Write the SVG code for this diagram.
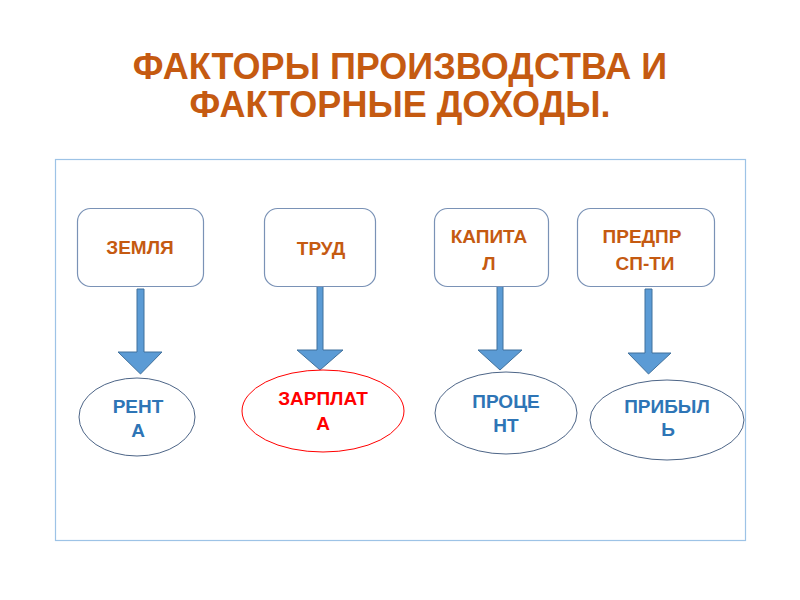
<svg xmlns="http://www.w3.org/2000/svg" width="800" height="600" viewBox="0 0 800 600">
<style>
.title{font-family:"Liberation Sans",Arial,sans-serif;font-weight:bold;font-size:36px;fill:#c55a11;text-anchor:middle}
.box{fill:#fff;stroke:#7a92b6;stroke-width:1.2}
.t{font-family:"Liberation Sans",Arial,sans-serif;font-weight:bold;font-size:19px;text-anchor:middle}
.or{fill:#c55a11}
.bl{fill:#2e75b6}
.rd{fill:#ff0000}
.ell{fill:#fff;stroke:#4d6587;stroke-width:1}
.ellr{fill:#fff;stroke:#ff0000;stroke-width:1}
.arr{fill:#5b9bd5;stroke:#41719c;stroke-width:1}
</style>
<rect width="800" height="600" fill="#fff"/>
<text class="title" x="400" y="79">ФАКТОРЫ ПРОИЗВОДСТВА И</text>
<text class="title" x="400" y="117">ФАКТОРНЫЕ ДОХОДЫ.</text>
<g id="connectors">
<path class="arr" d="M137,289 H144 V352 H162 L140.5,374 L118,352 H137 Z"/>
<path class="arr" d="M317,285 H323 V350 H343 L320,370 L297,350 H317 Z"/>
<path class="arr" d="M497,285 H503 V350 H522 L500,370 L478,350 H497 Z"/>
<path class="arr" d="M645,289 H652 V353 H671 L648.5,374 L628,353 H645 Z"/>
</g>
<g id="zemlya"><rect class="box" x="77.5" y="208.5" width="126" height="78" rx="13"/><text class="t or" x="140" y="254">ЗЕМЛЯ</text></g>
<g id="trud"><rect class="box" x="264.5" y="208.5" width="111" height="78" rx="13"/><text class="t or" x="321" y="255">ТРУД</text></g>
<g id="kapital"><rect class="box" x="434.5" y="208.5" width="114" height="78" rx="13"/><text class="t or" x="489" y="243">КАПИТА</text><text class="t or" x="489" y="270">Л</text></g>
<g id="predpr"><rect class="box" x="577.5" y="208.5" width="137" height="78" rx="13"/><text class="t or" x="642" y="243">ПРЕДПР</text><text class="t or" x="645" y="270">СП-ТИ</text></g>
<g id="renta"><ellipse class="ell" cx="137" cy="417" rx="58" ry="39"/><text class="t bl" x="138" y="413">РЕНТ</text><text class="t bl" x="138" y="437">А</text></g>
<g id="zarplata"><ellipse class="ellr" cx="323" cy="411" rx="81" ry="41"/><text class="t rd" x="323" y="405">ЗАРПЛАТ</text><text class="t rd" x="323" y="430">А</text></g>
<g id="procent"><ellipse class="ell" cx="506" cy="413" rx="71" ry="41"/><text class="t bl" x="506" y="408">ПРОЦЕ</text><text class="t bl" x="506" y="432">НТ</text></g>
<g id="pribyl"><ellipse class="ell" cx="667" cy="420" rx="77" ry="40"/><text class="t bl" x="667" y="413">ПРИБЫЛ</text><text class="t bl" x="668" y="436">Ь</text></g>
<rect x="55.5" y="159.5" width="690" height="381" fill="none" stroke="#9dc3e6" stroke-width="1.2"/>
</svg>
